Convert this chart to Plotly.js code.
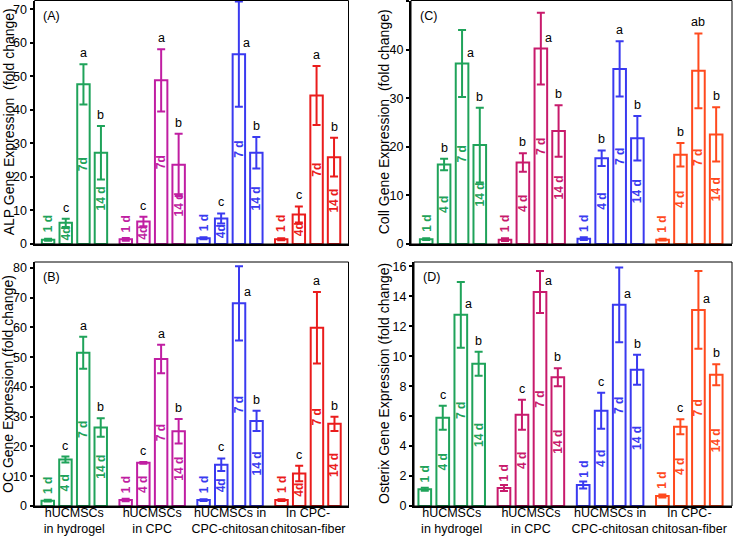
<!DOCTYPE html>
<html><head><meta charset="utf-8">
<script src="https://cdn.plot.ly/plotly-3.0.1.min.js"></script>
<style>html,body{margin:0;padding:0;background:#fff}#chart{width:733px;height:536px}</style>
</head><body><div id="chart"></div>
<script>
// ---------- data ----------
const groups = ['hUCMSCs<br>in hydrogel', 'hUCMSCs<br>in CPC', 'hUCMSCs in<br>CPC-chitosan', 'In CPC-<br>chitosan-fiber'];

// (A) ALP  [group][day: 1d,4d,7d,14d]
const alpMean = [[1.3, 6.3, 47.6, 27.2], [1.4, 6.7, 48.8, 23.6], [1.7, 7.6, 56.6, 27.2], [1.4, 8.8, 44.3, 25.9]];
const alpErr  = [[0.3, 1.2, 6.0, 8.0], [0.4, 1.4, 9.3, 9.3], [0.3, 1.5, 15.7, 4.7], [0.3, 2.4, 8.8, 5.8]];
const alpLetters = [['', 'c', 'a', 'b'], ['', 'c', 'a', 'b'], ['', 'c', 'a', 'b'], ['', 'c', 'a', 'b']];
const alpDayText = [['1 d', '4d', '7d', '14 d'], ['1 d', '4d', '7d', '14 d'], ['1 d', '4d', '7 d', '14 d'], ['1 d', '4d', '7d', '14 d']];

// (B) OC
const ocMean = [[1.8, 15.6, 51.5, 26.4], [2.0, 14.5, 49.4, 25.1], [2.0, 13.9, 68.1, 28.6], [2.0, 10.9, 59.9, 27.6]];
const ocErr  = [[0.3, 1.0, 5.4, 3.1], [0.4, 0.3, 4.8, 4.1], [0.3, 2.1, 12.5, 3.4], [0.3, 2.6, 12.0, 2.4]];
const ocLetters = [['', 'c', 'a', 'b'], ['', 'c', 'a', 'b'], ['', 'c', 'a', 'b'], ['', 'c', 'a', 'b']];
const ocDayText = [['1 d', '4 d', '7 d', '14 d'], ['1 d', '4 d', '7 d', '14 d'], ['1 d', '4d', '7 d', '14 d'], ['1 d', '4d', '7 d', '14 d']];

// (C) Coll
const colMean = [[1.0, 16.4, 37.2, 20.4], [0.9, 16.8, 40.3, 23.3], [1.1, 17.7, 36.1, 21.8], [0.9, 18.4, 35.7, 22.6]];
const colErr  = [[0.2, 1.2, 6.9, 7.7], [0.3, 1.9, 7.4, 5.3], [0.3, 1.6, 5.7, 4.6], [0.2, 2.4, 7.7, 5.6]];
const colLetters = [['', 'b', 'a', 'b'], ['', 'b', 'a', 'b'], ['', 'b', 'a', 'b'], ['', 'b', 'ab', 'b']];
const colDayText = [['1 d', '4 d', '7 d', '14 d'], ['1 d', '4 d', '7 d', '14 d'], ['1 d', '4 d', '7 d', '14 d'], ['1 d', '4 d', '7 d', '14 d']];

// (D) Osterix
const osxMean = [[1.12, 5.9, 12.77, 9.5], [1.2, 6.1, 14.3, 8.6], [1.4, 6.36, 13.44, 9.1], [0.67, 5.3, 13.1, 8.77]];
const osxErr  = [[0.1, 0.8, 2.2, 0.8], [0.2, 1.0, 1.4, 0.6], [0.23, 1.2, 2.5, 1.0], [0.1, 0.5, 2.6, 0.7]];
const osxLetters = [['', 'c', 'a', 'b'], ['', 'c', 'a', 'b'], ['', 'c', 'a', 'b'], ['', 'c', 'a', 'b']];
const osxDayText = [['1 d', '4 d', '7 d', '14 d'], ['1 d', '4 d', '7 d', '14 d'], ['1 d', '4 d', '7 d', '14 d'], ['1 d', '4 d', '7 d', '14 d']];

// ---------- styling / layout config ----------
const FONT = 'Liberation Sans, Arial, Helvetica, sans-serif';
const colorsAB = ['#1fa35a', '#c01ea2', '#3a3af0', '#ea1c1c'];
const colorsCD = ['#1fa35a', '#c81a6c', '#3a3af0', '#ff4a1e'];
const slotOffsets = [-0.34, -0.113, 0.115, 0.34];
const barWidth = 0.16;
const W = 733, H = 536;

const panels = [
  {label: '(A)', mean: alpMean, err: alpErr, letters: alpLetters, dayText: alpDayText, colors: colorsAB,
   title: 'ALP Gene Expression  (fold change)', xa: 'x', ya: 'y',
   px: [34.5, 348.5], py: [0.5, 244], xr: [-0.515, 3.526], yr: [0, 72.6], dtick: 10, ticks: false, titleX: 9, beside: [2]},
  {label: '(C)', mean: colMean, err: colErr, letters: colLetters, dayText: colDayText, colors: colorsCD,
   title: 'Coll Gene Expression  (fold change)', xa: 'x2', ya: 'y2',
   px: [411, 732], py: [0.5, 244], xr: [-0.533, 3.541], yr: [0, 50.2], dtick: 10, ticks: false, titleX: 384, beside: [0, 1]},
  {label: '(B)', mean: ocMean, err: ocErr, letters: ocLetters, dayText: ocDayText, colors: colorsAB,
   title: 'OC Gene Expression (fold change)', xa: 'x3', ya: 'y3',
   px: [34.5, 348.5], py: [262, 506], xr: [-0.51, 3.52], yr: [0, 82], dtick: 10, ticks: true, titleX: 8, beside: [2]},
  {label: '(D)', mean: osxMean, err: osxErr, letters: osxLetters, dayText: osxDayText, colors: colorsCD,
   title: 'Osterix Gene Expression (fold change)', xa: 'x4', ya: 'y4',
   px: [414, 732], py: [262, 506], xr: [-0.476, 3.539], yr: [0, 16.3], dtick: 2, ticks: true, titleX: 384, beside: [0, 1, 2, 3]}
];

const traces = [];
const annotations = [];
const shapes = [];
const layout = {
  width: W, height: H, margin: {l: 0, r: 0, t: 0, b: 0},
  paper_bgcolor: '#fff', plot_bgcolor: 'rgba(0,0,0,0)',
  barmode: 'overlay', showlegend: false,
  font: {family: FONT, color: '#000', size: 12.5}
};

panels.forEach(p => {
  const xName = 'xaxis' + p.xa.slice(1);
  const yName = 'yaxis' + p.ya.slice(1);
  layout[xName] = {
    domain: [p.px[0] / W, p.px[1] / W], range: p.xr, anchor: p.ya,
    showline: true, linewidth: 2, linecolor: '#000', showgrid: false, zeroline: false,
    ticks: '', tickvals: [0, 1, 2, 3], ticktext: groups, showticklabels: p.ticks, tickangle: 0,
    ticklabelstandoff: -6,
    tickfont: {family: FONT, size: 12.5, color: '#000'}, fixedrange: true
  };
  layout[yName] = {
    domain: [1 - p.py[1] / H, 1 - p.py[0] / H], range: p.yr, anchor: p.xa,
    showline: true, linewidth: 2, linecolor: '#000', showgrid: false, zeroline: false,
    ticks: 'outside', ticklen: 3, tickwidth: 2, tickcolor: '#000', dtick: p.dtick,
    tickfont: {family: FONT, size: 12.5, color: '#000'}, fixedrange: true
  };
  shapes.push({type: 'rect', xref: p.xa + ' domain', yref: p.ya + ' domain', x0: 0, x1: 1, y0: 0, y1: 1,
    line: {color: '#000', width: 1}, layer: 'above'});
  annotations.push({xref: p.xa + ' domain', yref: p.ya + ' domain', x: 0.022, y: 0.975, xanchor: 'left', yanchor: 'top',
    text: p.label, showarrow: false, font: {family: FONT, size: 12.5, color: '#000'}});
  annotations.push({xref: 'paper', yref: p.ya + ' domain', x: p.titleX / W, y: 0.5, xanchor: 'center', yanchor: 'middle',
    textangle: -90, text: p.title, showarrow: false, font: {family: FONT, size: 14, color: '#000'}});

  p.mean.forEach((vals, g) => {
    const col = p.colors[g];
    const xs = vals.map((v, d) => g + slotOffsets[d]);
    const boldFont = {family: FONT, size: 12, color: col, weight: 'bold'};
    traces.push({
      type: 'bar', x: xs, y: vals, width: barWidth, xaxis: p.xa, yaxis: p.ya,
      marker: {color: 'rgba(255,255,255,0)', line: {color: col, width: 2}},
      error_y: {type: 'data', array: p.err[g], visible: true, color: col, thickness: 2, width: 4},
      text: p.dayText[g].map((t, d) => d === 0 ? '' : t),
      textposition: ['none', 'inside', 'inside', 'inside'],
      textangle: -90, insidetextanchor: 'middle', constraintext: 'none', cliponaxis: false,
      textfont: boldFont, insidetextfont: boldFont,
      hoverinfo: 'skip'
    });
    // day-1 label sits above its short bar
    annotations.push({
      xref: p.xa, yref: p.ya, x: xs[0], y: vals[0], xanchor: 'center', yanchor: 'bottom', yshift: 5,
      textangle: -90, text: p.dayText[g][0], showarrow: false, font: boldFont
    });
    vals.forEach((v, d) => {
      const letter = p.letters[g][d];
      if (!letter) return;
      const beside = d === 2 && p.beside.indexOf(g) >= 0;
      annotations.push({
        xref: p.xa, yref: p.ya, x: xs[d], y: beside ? v : v + p.err[g][d],
        xanchor: 'center', yanchor: 'bottom', xshift: beside ? 8 : 0, yshift: 2,
        text: letter, showarrow: false, font: {family: FONT, size: 12.5, color: '#000'}
      });
    });
  });
});

layout.annotations = annotations;
layout.shapes = shapes;
Plotly.newPlot('chart', traces, layout, {staticPlot: true, displayModeBar: false});
</script>
</body></html>
